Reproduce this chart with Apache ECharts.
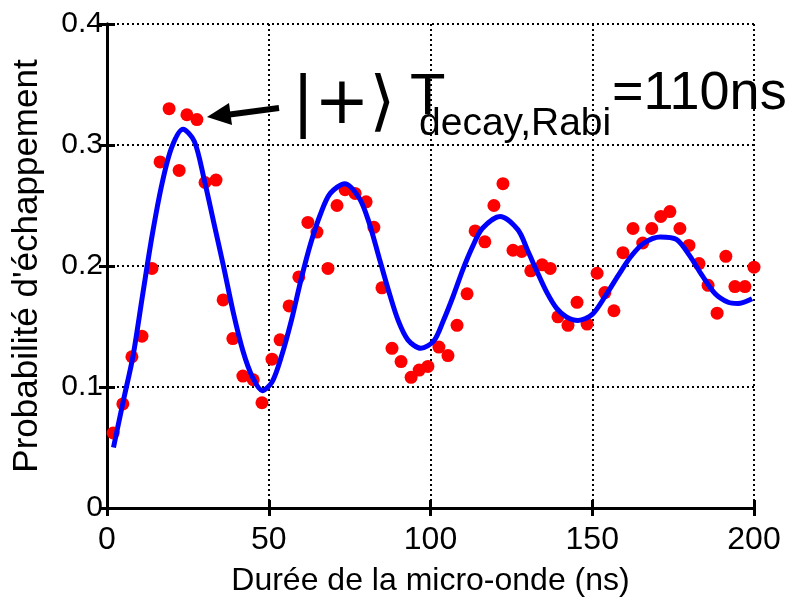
<!DOCTYPE html>
<html>
<head>
<meta charset="utf-8">
<script src="https://cdn.jsdelivr.net/npm/echarts@6/dist/echarts.min.js"></script>
<style>
html,body{margin:0;padding:0;background:#fff;}
#chart{width:803px;height:600px;}
</style>
</head>
<body>
<div id="chart"></div>
<script>
// Measured points: duration (ns)
const measX = [1.9,4.9,7.7,10.8,13.9,16.4,19.2,22.3,24.7,27.8,30.3,33.7,35.9,38.9,42,45.2,47.9,51,53.5,56.3,59.3,62.1,64.9,68.3,71.1,73.6,76.7,80.1,82.5,85,88.1,90.9,94,96.5,99.2,102.6,105.4,108.2,111.3,113.8,116.8,119.6,122.4,125.5,128.2,131,134.5,137,139.4,142.5,145.3,148.4,151.5,153.9,156.7,159.5,162.6,165.6,168.4,171.2,174,177.1,179.9,183,185.8,188.6,191.3,194.1,197.2,200];
// Measured escape probability
const measY = [0.062,0.086,0.125,0.142,0.198,0.286,0.33,0.279,0.325,0.321,0.269,0.271,0.172,0.14,0.109,0.106,0.087,0.123,0.139,0.167,0.191,0.236,0.228,0.198,0.25,0.263,0.26,0.253,0.232,0.182,0.132,0.121,0.108,0.114,0.117,0.133,0.126,0.151,0.177,0.229,0.22,0.25,0.268,0.213,0.212,0.196,0.201,0.198,0.158,0.151,0.17,0.152,0.194,0.178,0.163,0.211,0.231,0.219,0.231,0.241,0.245,0.231,0.217,0.202,0.184,0.161,0.208,0.183,0.183,0.199];
// Fit curve
const fitX = [2,5,8,11,14,17,20,23.5,27,30,33,36,39,42,45,48,51,54,57,60,63,66,69,73.5,78,81,84,87,90,93,97,101,104,107,110,113,116,121.5,127,130,133,136,139,142,145.6,150,154,158,162,166,171,176,180,184,188,192,195,199.4];
const fitY = [0.05,0.088,0.125,0.176,0.226,0.268,0.298,0.313,0.303,0.272,0.236,0.200,0.162,0.130,0.108,0.097,0.104,0.126,0.155,0.189,0.219,0.243,0.260,0.268,0.256,0.236,0.208,0.180,0.155,0.139,0.132,0.138,0.155,0.175,0.197,0.216,0.231,0.241,0.230,0.213,0.195,0.178,0.165,0.158,0.155,0.160,0.175,0.192,0.208,0.219,0.224,0.222,0.209,0.192,0.177,0.170,0.169,0.173];
// Axis ticks
const xTicks = [0,50,100,150,200];
const yTicks = [0,0.1,0.2,0.3,0.4];

const FONT = '"Liberation Sans", Arial, Helvetica, sans-serif';
const chart = echarts.init(document.getElementById('chart'));

const axisCommon = {
  axisLine: {show: true, lineStyle: {color: '#000', width: 3}},
  axisTick: {show: true, inside: true, length: 8, lineStyle: {color: '#000', width: 3}}
};

chart.setOption({
  animation: false,
  backgroundColor: '#fff',
  grid: {left: 107, right: 49, top: 24, bottom: 92, containLabel: false, outerBoundsMode: 'none'},
  xAxis: [{
    type: 'value', min: xTicks[0], max: xTicks[xTicks.length-1], interval: 50,
    position: 'bottom',
    name: 'Durée de la micro-onde (ns)', nameLocation: 'middle', nameGap: 57,
    nameTextStyle: {fontFamily: FONT, fontSize: 32, color: '#000'},
    axisLabel: {fontFamily: FONT, fontSize: 32, color: '#000', margin: 16},
    splitLine: {show: true, lineStyle: {color: '#000', width: 2, type: [2, 3]}},
    ...axisCommon
  }, {
    type: 'value', min: xTicks[0], max: xTicks[xTicks.length-1], interval: 50,
    position: 'top', axisLabel: {show: false}, splitLine: {show: false},
    ...axisCommon
  }],
  yAxis: [{
    type: 'value', min: yTicks[0], max: yTicks[yTicks.length-1], interval: 0.1,
    position: 'left',
    name: "Probabilité d'échappement", nameLocation: 'middle', nameGap: 62, nameRotate: 90,
    nameTextStyle: {fontFamily: FONT, fontSize: 35, color: '#000'},
    axisLabel: {fontFamily: FONT, fontSize: 30, color: '#000', margin: 4,
      formatter: v => (Math.round(v*10)/10).toString()},
    splitLine: {show: true, lineStyle: {color: '#000', width: 2, type: [2, 3]}},
    ...axisCommon
  }, {
    type: 'value', min: yTicks[0], max: yTicks[yTicks.length-1], interval: 0.1,
    position: 'right', axisLabel: {show: false}, splitLine: {show: false},
    ...axisCommon
  }],
  series: [{
    type: 'scatter',
    data: measX.map((x, i) => [x, measY[i]]),
    symbol: 'circle', symbolSize: 13,
    itemStyle: {color: '#ff0000', opacity: 1},
    z: 2
  }, {
    type: 'line',
    data: fitX.map((x, i) => [x, fitY[i]]),
    smooth: 0.3, showSymbol: false,
    lineStyle: {color: '#0000ff', width: 5},
    z: 3
  }],
  graphic: [
    {type: 'line', shape: {x1: 279, y1: 108, x2: 226, y2: 115}, style: {stroke: '#000', lineWidth: 6}, z: 10},
    {type: 'polygon', shape: {points: [[207, 117], [232, 125], [229, 103]]}, style: {fill: '#000'}, z: 10},
    {type: 'text', x: 292, y: 106, z: 10,
      style: {text: '|+⟩', font: '66px "DejaVu Sans", sans-serif', fill: '#000', verticalAlign: 'middle'}},
    {type: 'text', x: 410, y: 98, z: 10,
      style: {text: 'T', font: '58px ' + FONT, fill: '#000', verticalAlign: 'middle'}},
    {type: 'text', x: 419, y: 124, z: 10,
      style: {text: 'decay,Rabi', font: '39px ' + FONT, fill: '#000', verticalAlign: 'middle'}},
    {type: 'text', x: 612, y: 94, z: 10,
      style: {text: '=110ns', font: '54px ' + FONT, fill: '#000', verticalAlign: 'middle'}}
  ]
});
</script>
</body>
</html>
